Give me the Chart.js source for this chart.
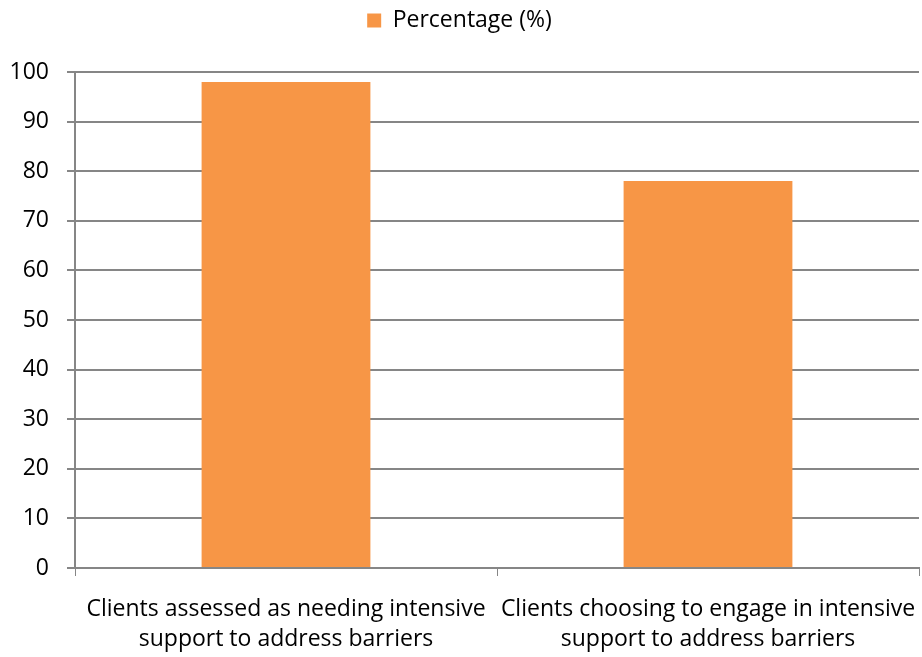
<!DOCTYPE html>
<html>
<head>
<meta charset="utf-8">
<script src="https://cdn.jsdelivr.net/npm/chart.js@4/dist/chart.umd.min.js"></script>
<style>
  html, body { margin: 0; padding: 0; background: #fff; }
  #wrap { width: 922px; height: 657px; }
</style>
</head>
<body>
<div id="wrap"><canvas id="myChart"></canvas></div>
<script>
'use strict';

const categories = [
	['Clients assessed as needing intensive', 'support to address barriers'],
	['Clients choosing to engage in intensive', 'support to address barriers'],
];
const percentages = [98, 78];
const seriesName = 'Percentage (%)';
const yMin = 0;
const yMax = 100;
const yStep = 10;

const orange = '#f79646';
const gridGray = '#868686';
const textColor = '#000';

Chart.defaults.font.family = '"Open Sans", "Liberation Sans", sans-serif';
Chart.defaults.font.size = 23;
Chart.defaults.color = textColor;

// extra room between the legend and the plot
const legendGap = {
	id: 'legendGap',
	beforeInit(chart) {
		const fit = chart.legend.fit;
		chart.legend.fit = function () {
			fit.bind(chart.legend)();
			this.height += 30;
		};
	},
};

const ctx = document.getElementById('myChart').getContext('2d');

const myChart = new Chart(ctx, {
	type: 'bar',
	data: {
		labels: categories,
		datasets: [
			{
				label: seriesName,
				data: percentages,
				backgroundColor: orange,
				borderWidth: 0,
				barPercentage: 0.4,
				categoryPercentage: 1,
			},
		],
	},
	options: {
		responsive: true,
		maintainAspectRatio: false,
		animation: false,
		layout: {
			padding: { left: 0, right: 3, top: 0, bottom: 2 },
		},
		plugins: {
			legend: {
				position: 'top',
				labels: {
					boxWidth: 14,
					boxHeight: 14,
					padding: 9,
					font: { size: 23 },
				},
			},
			tooltip: { enabled: false },
		},
		scales: {
			x: {
				grid: {
					offset: true,
					drawOnChartArea: false,
					color: gridGray,
					lineWidth: 1,
					tickLength: 8,
				},
				border: { color: gridGray, width: 2 },
				ticks: {
					maxRotation: 0,
					autoSkip: false,
					padding: 19,
					font: { size: 23, lineHeight: 1.3 },
				},
				afterFit: (scale) => {
					scale.height = 87;
					// long labels may hang past the plot edges
					scale.paddingLeft = 0;
					scale.paddingRight = 0;
				},
			},
			y: {
				min: yMin,
				max: yMax,
				grid: {
					color: gridGray,
					lineWidth: 2,
					tickLength: 8,
				},
				border: { color: gridGray, width: 2 },
				ticks: {
					stepSize: yStep,
					padding: 18,
					font: { size: 23 },
				},
				afterFit: (scale) => {
					scale.width = 75;
				},
			},
		},
	},
	plugins: [legendGap],
});
</script>
</body>
</html>
